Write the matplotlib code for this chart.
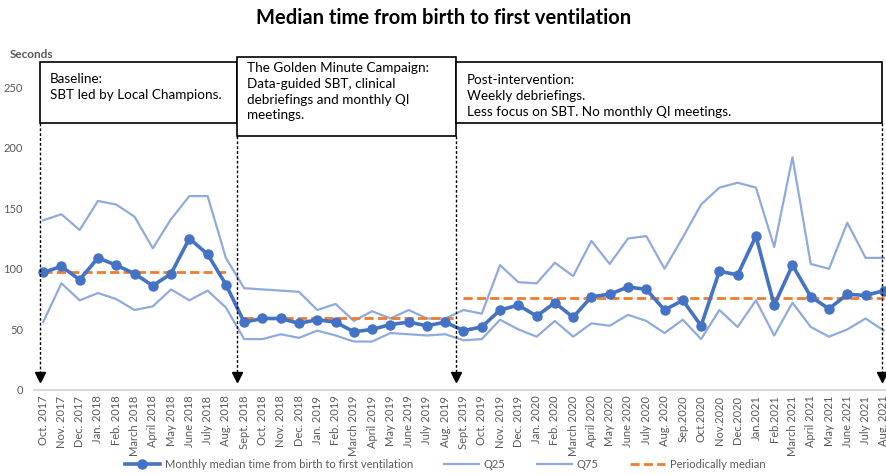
import matplotlib
matplotlib.use("Agg")
import matplotlib.pyplot as plt
from matplotlib.patches import Rectangle
from matplotlib.lines import Line2D
import numpy as np

plt.rcParams['font.family'] = ['Lato', 'DejaVu Sans']

months = ["Oct. 2017", "Nov. 2017", "Dec. 2017", "Jan. 2018", "Feb. 2018", "March 2018",
          "April 2018", "May 2018", "June 2018", "July 2018", "Aug. 2018", "Sept. 2018",
          "Oct. 2018", "Nov. 2018", "Dec. 2018", "Jan. 2019", "Feb. 2019", "March 2019",
          "April 2019", "May 2019", "June 2019", "July 2019", "Aug. 2019", "Sept. 2019",
          "Oct. 2019", "Nov. 2019", "Dec. 2019", "Jan. 2020", "Feb. 2020", "March 2020",
          "April 2020", "May 2020", "June 2020", "July 2020", "Aug. 2020", "Sep.2020",
          "Oct.2020", "Nov.2020", "Dec.2020", "Jan.2021", "Feb.2021", "March 2021",
          "April 2021", "May 2021", "June 2021", "July 2021", "Aug. 2021"]

median = [97, 102, 91, 109, 103, 96, 86, 96, 125, 112, 87,
          56, 59, 59, 55, 58, 56, 48, 50, 54, 56, 53, 56,
          49, 52, 66, 70, 61, 72, 60, 77, 79, 85, 83, 66,
          74, 53, 98, 95, 127, 70, 103, 77, 67, 79, 78, 82]

q25 = [56, 88, 74, 80, 75, 66, 69, 83, 74, 82, 68,
       42, 42, 46, 43, 49, 45, 40, 40, 47, 46, 45, 46,
       41, 42, 58, 50, 44, 57, 44, 55, 53, 62, 57, 47,
       58, 42, 66, 52, 74, 45, 72, 52, 44, 50, 59, 49]

q75 = [140, 145, 132, 156, 153, 143, 117, 141, 160, 160, 109,
       84, 83, 82, 81, 66, 71, 57, 65, 59, 66, 59, 59,
       66, 63, 103, 89, 88, 105, 94, 123, 104, 125, 127, 100,
       126, 153, 167, 171, 167, 118, 192, 104, 100, 138, 109, 109]

period_median = [97, 59.5, 75.5]
period_start = [0, 11, 23]
period_end = [10, 22, 46]

box_texts = ["Baseline:\nSBT led by Local Champions.",
             "The Golden Minute Campaign:\nData-guided SBT, clinical\ndebriefings and monthly QI\nmeetings.",
             "Post-intervention:\nWeekly debriefings.\nLess focus on SBT. No monthly QI meetings."]

W, H = 887, 475
fig = plt.figure(figsize=(W / 100, H / 100), dpi=100)

def fx(px):
    return px / W

def fy(py):
    return 1 - py / H

ax = fig.add_axes([fx(34), fy(390), fx(893) - fx(34), fy(87) - fy(390)])

x = np.arange(len(months))
blue = "#4472C4"
light = "#8FAADC"
orange = "#ED7D31"
gray = "#595959"

ax.plot(x, q25, color=light, lw=1.6, label="Q25", zorder=2)
ax.plot(x, q75, color=light, lw=1.6, label="Q75", zorder=2)
for i, (v, s, e) in enumerate(zip(period_median, period_start, period_end)):
    ax.plot([s, e + (0.6 if i == 1 else 0)], [v, v], color=orange, lw=2.0,
            dashes=(3.3, 1.5), label="Periodically median" if i == 0 else None, zorder=3)
ax.plot(x, median, color=blue, lw=2.6, marker="o", ms=6.5,
        label="Monthly median time from birth to first ventilation", zorder=4)

ax.set_xlim(-0.5, len(months) - 0.5)
ax.set_ylim(0, 250)
ax.set_yticks([0, 50, 100, 150, 200, 250])
ax.set_xticks(x)
ax.set_xticklabels(months, rotation=90, fontsize=8, color=gray)
ax.tick_params(axis="y", labelsize=8, labelcolor=gray, length=0, pad=8)
ax.tick_params(axis="x", length=0, pad=4)
for s in ["top", "right", "left"]:
    ax.spines[s].set_visible(False)
ax.spines["bottom"].set_color("#D9D9D9")
ax.spines["bottom"].set_linewidth(1.5)
ax.patch.set_alpha(0)

# Title and axis label
fig.text(0.5, fy(18), "Median time from birth to first ventilation", ha="center", va="center",
         fontsize=14.5, fontweight="bold", color="black")
fig.text(fx(10), fy(55), "Seconds", ha="left", va="center", fontsize=8.5,
         fontweight="bold", color=gray)

# Annotation boxes (pixel layout)
boxes = [(40, 62, 237, 123), (237, 57, 456, 136), (456, 62, 882, 123)]
text_pos = [(50, 73), (247, 62), (467, 74)]
for (x0, y0, x1, y1), (tx, ty), t in zip(boxes, text_pos, box_texts):
    fig.add_artist(Rectangle((fx(x0), fy(y1)), fx(x1) - fx(x0), fy(y0) - fy(y1),
                             transform=fig.transFigure, fill=True, facecolor="white",
                             edgecolor="black", lw=1.2, zorder=5))
    fig.text(fx(tx), fy(ty), t, ha="left", va="top", fontsize=9.7, color="black",
             linespacing=1.38, zorder=6)

# Dashed arrows
arrows = [(40, 123), (237.5, 136), (456.5, 136), (882, 123)]
for ax_px, top in arrows:
    fig.add_artist(Line2D([fx(ax_px), fx(ax_px)], [fy(top), fy(374)], transform=fig.transFigure,
                          color="black", lw=1.0, dashes=(2, 1.5), zorder=5))
    fig.add_artist(Line2D([fx(ax_px)], [fy(377)], transform=fig.transFigure, color="black",
                          marker="v", ms=7, lw=0, zorder=5))

handles, labels = ax.get_legend_handles_labels()
order = [3, 0, 1, 2]
fig.legend([handles[i] for i in order], [labels[i] for i in order], loc="center",
           bbox_to_anchor=(fx(445), fy(464)), ncol=4, frameon=False, fontsize=8,
           handlelength=3.2, columnspacing=2.8, handletextpad=0.4, labelcolor=gray)

fig.savefig("out.png", dpi=100)
